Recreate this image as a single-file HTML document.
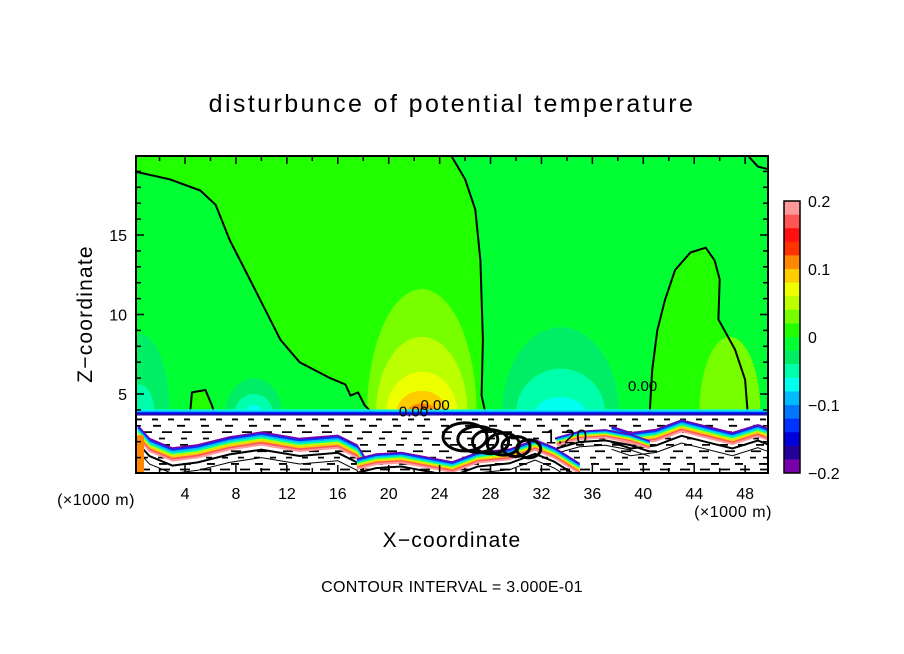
<!DOCTYPE html>
<html><head><meta charset="utf-8">
<style>
html,body{margin:0;padding:0;background:#fff;}
svg{display:block;}
text{font-family:"Liberation Sans",sans-serif;fill:#000;}
</style></head>
<body>
<svg id="chart" width="904" height="654" viewBox="0 0 904 654" xmlns="http://www.w3.org/2000/svg">
  <defs><clipPath id="clip"><rect x="136" y="156" width="632" height="317"/></clipPath></defs>
  <text x="452" y="112" text-anchor="middle" font-size="25" letter-spacing="2.4">disturbunce of potential temperature</text>
  <g id="plot" clip-path="url(#clip)"></g>
  <g id="axes"></g>
  <g id="cbar"></g>
  <text x="452" y="547" text-anchor="middle" font-size="21" letter-spacing="1.2">X−coordinate</text>
  <text transform="translate(92,314) rotate(-90)" text-anchor="middle" font-size="21" letter-spacing="1.2">Z−coordinate</text>
  <text x="96" y="505" text-anchor="middle" font-size="16" letter-spacing="0.5">(×1000 m)</text>
  <text x="733" y="517" text-anchor="middle" font-size="16" letter-spacing="0.5">(×1000 m)</text>
  <text x="452" y="592" text-anchor="middle" font-size="16" letter-spacing="0.3">CONTOUR INTERVAL = 3.000E-01</text>
</svg>
<script>
// ---- data ----
const xTicks = [4,8,12,16,20,24,28,32,36,40,44,48];
const zTicks = [5,10,15];
const cbarColors = ["#ff9999","#ff5555","#ff1111","#ff3300","#ff8800","#ffcc00","#eeff00","#bbff00","#77ff00","#22ff00","#00ff33","#00ee66","#00ffaa","#00ffee","#00bbff","#0077ff","#0033ff","#0000dd","#220099","#7700aa"];
const cbarLabels = [0.2,0.1,0,-0.1,-0.2];
const surfaceZ = 3.8;
const posRegionX = [0,0,2.8,5.2,6.4,7.5,9.1,10.3,11.5,13.0,15.4,16.6,17.0,17.6,18.1,18.7,27.6,27.3,27.4,27.2,26.8,26.0,24.9];
const posRegionZ = [20,19.0,18.5,17.8,16.9,14.7,12.2,10.3,8.4,7.0,6.0,5.6,4.9,5.1,4.3,3.8,3.8,4.9,8.4,13.4,16.6,18.5,20];
const rightBlobX = [40.5,40.7,41.1,41.7,42.5,43.7,44.9,45.6,46.0,45.9,47.2,48.0,48.2];
const rightBlobZ = [3.8,6.5,9.0,10.9,12.8,13.9,14.2,13.4,12.2,9.7,7.8,5.9,3.8];
const smallBlobX = [4.4,4.55,5.6,6.1,6.3];
const smallBlobZ = [3.8,5.1,5.25,4.3,3.8];
const cornerX = [48.2,49,50];
const cornerZ = [20,19.3,19.1];
const posBlobCenter = 22.6, posBlobW = [4.3,3.6,2.8,2.0,1.2], posBlobTop = [11.6,8.6,6.4,5.2,4.4], posBlobLvl = [8,7,6,5,4];
const negBlobCenter = 33.5, negBlobW = [4.6,3.5,2.0], negBlobTop = [9.2,6.6,4.8], negBlobLvl = [11,12,13];
const leftBlobCenter = 0.4, leftBlobW = [2.4,1.2], leftBlobTop = [8.8,5.6], leftBlobLvl = [11,12];
const midBlobCenter = 9.4, midBlobW = [2.2,1.5,0.7], midBlobTop = [6.0,5.0,4.3], midBlobLvl = [11,12,13];
const rPosCenter = 46.8, rPosW = [2.4], rPosTop = [8.6], rPosLvl = [8];
const streak1X = [0.3,1.2,3,5,7.5,10,13,16,17.5,18.2];
const streak1Z = [2.6,1.8,1.2,1.4,1.9,2.2,1.8,2.0,1.4,0.5];
const streak2X = [37.5,39,41,43,45,47,49,50];
const streak2Z = [2.6,2.2,2.4,3.0,2.6,2.2,2.7,2.4];
const streak3X = [33.2,35,37,39,40.5];
const streak3Z = [2.0,2.4,2.5,2.2,1.8];
const streak4X = [17.5,19,21,23,25,27,29.5,31.5,33,35];
const streak4Z = [0.6,0.9,1.0,0.7,0.4,1.0,1.2,1.8,1.3,0.3];
const dashRows = [3.4,3.0,2.6,2.2,1.8,1.4,1.0,0.6,0.25];

// ---- scales ----
const X = v => 134.1 + v*12.73;
const Z = v => 473.5 - v*15.9;
const NS = "http://www.w3.org/2000/svg";
const plot = document.getElementById('plot');
const axes = document.getElementById('axes');
const cbar = document.getElementById('cbar');
function mk(tag, attrs, parent){const e=document.createElementNS(NS,tag);for(const k in attrs)e.setAttribute(k,attrs[k]);parent.appendChild(e);return e;}
function pts(xs,zs){return xs.map((x,i)=>X(x).toFixed(1)+','+Z(zs[i]).toFixed(1)).join(' ');}

let bg = mk('rect',{x:136,y:156,width:632,height:317,fill:cbarColors[10]},plot);



let pr = mk('polygon',{points:pts(posRegionX,posRegionZ),fill:cbarColors[9]},plot);


let rb = mk('polygon',{points:pts(rightBlobX,rightBlobZ),fill:cbarColors[9]},plot);


let sb = mk('polygon',{points:pts(smallBlobX,smallBlobZ),fill:cbarColors[9]},plot);



function blob(c, ws, tops, lvls, name){
  ws.forEach((w,i)=>{
    const xl=X(c-w), xr=X(c+w), y0=Z(surfaceZ), ry=Z(surfaceZ)-Z(tops[i]), rx=(xr-xl)/2;
    const p = mk('path',{d:`M${xl},${y0} A${rx},${ry} 0 0 1 ${xr},${y0} Z`,fill:cbarColors[lvls[i]]},plot);
    
    
  });
}
blob(posBlobCenter,posBlobW,posBlobTop,posBlobLvl,'warm-anomaly');
blob(negBlobCenter,negBlobW,negBlobTop,negBlobLvl,'cold-anomaly');
blob(leftBlobCenter,leftBlobW,leftBlobTop,leftBlobLvl,'left-cold-anomaly');
blob(midBlobCenter,midBlobW,midBlobTop,midBlobLvl,'mid-cold-anomaly');
blob(rPosCenter,rPosW,rPosTop,rPosLvl,'right-warm-anomaly');

function line(xs,zs,name,w){
  const l = mk('polyline',{points:pts(xs,zs),fill:'none',stroke:'#000','stroke-width':w||2,'stroke-linejoin':'round'},plot);
  
  
}
line(posRegionX.slice(1,16),posRegionZ.slice(1,16),'zero-contour-left');
line(posRegionX.slice(16),posRegionZ.slice(16),'zero-contour-right');
line(rightBlobX,rightBlobZ,'zero-contour-east');
line(smallBlobX,smallBlobZ,'zero-contour-small');
line(cornerX,cornerZ,'zero-contour-corner');

let low = mk('rect',{x:136,y:Z(surfaceZ),width:632,height:473-Z(surfaceZ),fill:'#fff'},plot);


const surfCols = ["#00ffee","#00bbff","#0033ff","#0000dd","#220099"];
surfCols.forEach((c,i)=>{
  const s = mk('line',{x1:136,x2:768,y1:Z(surfaceZ)-3+i*1.2,y2:Z(surfaceZ)-3+i*1.2,stroke:c,'stroke-width':1.3},plot);
  
  
});
dashRows.forEach((r,i)=>{
  const d = mk('line',{x1:136,x2:768,y1:Z(r),y2:Z(r),stroke:'#000','stroke-width':1.8,'stroke-dasharray':(6+(i%3)*2)+' '+(10+(i%2)*6),'stroke-dashoffset':i*7},plot);
  
  
});
const streakCols = ["#7700aa","#0033ff","#00bbff","#00ffaa","#bbff00","#ffcc00","#ff5555","#ff9999"];
function streak(xs,zs,name,w){
  const g = mk('g',{},plot);
  
  
  streakCols.forEach((c,i)=>{
    const zz = zs.map(z=>z-(i-3.5)*0.11*w);
    mk('polyline',{points:pts(xs,zz),fill:'none',stroke:c,'stroke-width':2,'stroke-linejoin':'round'},g);
  });
  mk('polyline',{points:pts(xs,zs.map(z=>z-0.7*w)),fill:'none',stroke:'#000','stroke-width':2},g);
  mk('polyline',{points:pts(xs,zs.map(z=>z-1.2*w)),fill:'none',stroke:'#000','stroke-width':1},g);
}
streak(streak1X,streak1Z,'streak-west',1);
streak(streak2X,streak2Z,'streak-east',0.9);
streak(streak3X,streak3Z,'streak-east-core',0.6);
streak(streak4X,streak4Z,'streak-bottom',0.8);
let lp = mk('rect',{x:136,y:Z(2.4),width:8,height:Z(0)-Z(2.4),fill:'#ff8800'},plot);


const clusterX = [26,27,28,29,30,31];
clusterX.forEach((cx,i)=>{
  const e = mk('ellipse',{cx:X(cx),cy:Z(2.3-i*0.15),rx:22-i*2,ry:14-i,fill:'none',stroke:'#000','stroke-width':3},plot);
  
  
});
let lab = mk('text',{x:X(32.3),y:Z(1.9),'font-size':20,'letter-spacing':1},plot);
lab.textContent='1.20';


const zeroLabX=[20.8,22.5,38.8];
const zeroLabZ=[3.6,4.0,5.2];
zeroLabX.forEach((x,i)=>{
  const t = mk('text',{x:X(x),y:Z(zeroLabZ[i]),'font-size':15},plot);
  t.textContent='0.00';
  
  
});

let fr = mk('rect',{x:136,y:156,width:632,height:317,fill:'none',stroke:'#000','stroke-width':2},axes);


for(let v=2; v<=48; v+=2){
  const len = v%4===0?8:5;
  mk('line',{x1:X(v),x2:X(v),y1:473,y2:473-len,stroke:'#000','stroke-width':1.5},axes);
  mk('line',{x1:X(v),x2:X(v),y1:156,y2:156+len,stroke:'#000','stroke-width':1.5},axes);
}
for(let v=1; v<20; v++){
  const len = v%5===0?8:5;
  mk('line',{x1:136,x2:136+len,y1:Z(v),y2:Z(v),stroke:'#000','stroke-width':1.5},axes);
  mk('line',{x1:768,x2:768-len,y1:Z(v),y2:Z(v),stroke:'#000','stroke-width':1.5},axes);
}
xTicks.forEach(v=>{
  const t = mk('text',{x:X(v),y:499,'text-anchor':'middle','font-size':16},axes);
  t.textContent=v;
  
  
});
zTicks.forEach(v=>{
  const t = mk('text',{x:127,y:Z(v)+6,'text-anchor':'end','font-size':16},axes);
  t.textContent=v;
  
  
});

const cbTop=201, cbBot=473, cbH=(cbBot-cbTop)/cbarColors.length;
cbarColors.forEach((c,i)=>{
  const r = mk('rect',{x:784,y:cbTop+i*cbH,width:16,height:cbH+0.3,fill:c},cbar);
  
  
});
mk('rect',{x:784,y:cbTop,width:16,height:cbBot-cbTop,fill:'none',stroke:'#000','stroke-width':1.5},cbar);
cbarLabels.forEach((v,i)=>{
  const t = mk('text',{x:808,y:cbTop+i*(cbBot-cbTop)/4+6,'font-size':16},cbar);
  t.textContent = v===0?'0':(v<0?'−'+Math.abs(v):String(v));
  
  
});
</script>
</body></html>
